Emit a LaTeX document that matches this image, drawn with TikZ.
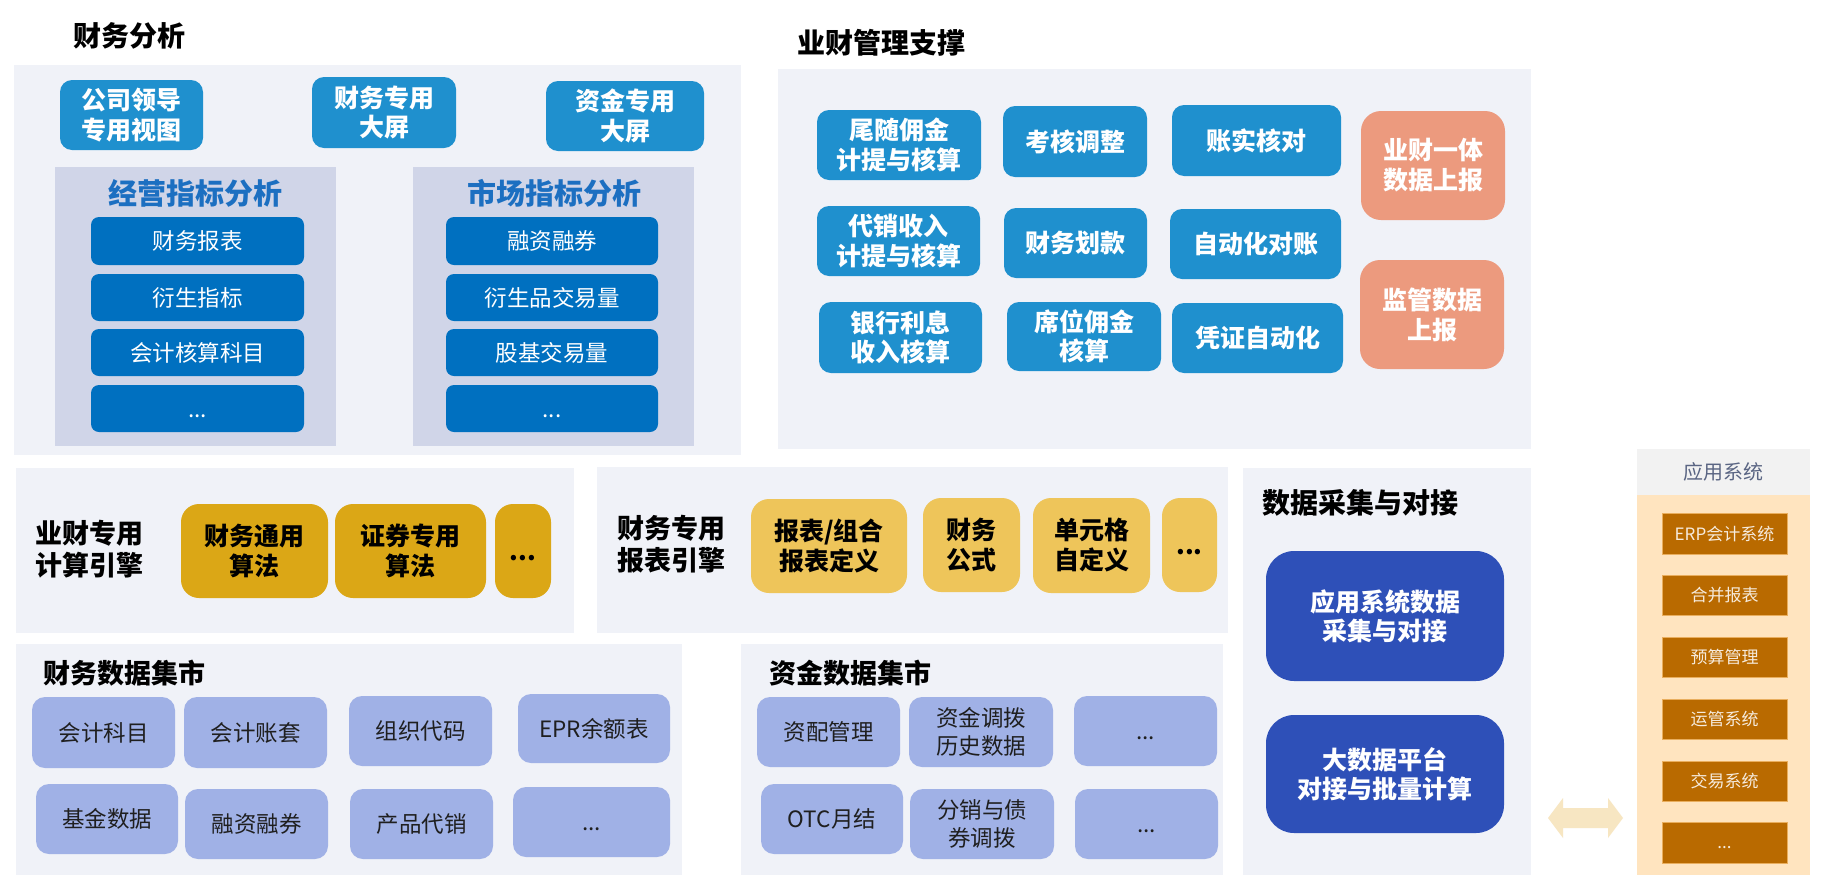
\documentclass[tikz,border=0pt]{standalone}
\usepackage{fontspec}
\setmainfont{Noto Sans CJK SC}
\definecolor{panelbg}{HTML}{F0F2F8}
\definecolor{subbg}{HTML}{D0D5E8}
\definecolor{midblue}{HTML}{1F90CE}
\definecolor{itemblue}{HTML}{0070C0}
\definecolor{titleblue}{HTML}{1C6FC1}
\definecolor{salmon}{HTML}{EC9A7E}
\definecolor{goldc}{HTML}{DBA716}
\definecolor{lightgold}{HTML}{EEC55A}
\definecolor{deepblue}{HTML}{2E50B8}
\definecolor{peric}{HTML}{A0B1E6}
\definecolor{hdrgrey}{HTML}{F2F2F2}
\definecolor{hdrtext}{HTML}{5A6583}
\definecolor{peach}{HTML}{FFE4BF}
\definecolor{brownc}{HTML}{B96A00}
\definecolor{brownedge}{HTML}{E9AE5E}
\definecolor{apptext}{HTML}{F6EBDD}
\definecolor{arrowy}{HTML}{F7E6C2}
\newcommand\mybox[7]{\node[#1,minimum width={(#5-#3)*1pt},minimum height={(#6-#4)*1pt}] (#2) at ({(#3+#5)/2},{(#4+#6)/2}) {#7};}
\newcommand\dd{\vphantom{财}...}
\tikzset{
  base/.style={inner sep=0pt,outer sep=0pt,align=center,text=white},
  panel/.style={base,fill=panelbg},
  subpanel/.style={base,fill=subbg},
  sect/.style={inner sep=0pt,outer sep=0pt,align=center,text=black,font=\bfseries\fontsize{28}{32}\selectfont},
  sectsm/.style={sect,font=\bfseries\fontsize{27}{32}\selectfont},
  subtitle/.style={inner sep=0pt,align=center,text=titleblue,font=\bfseries\fontsize{29}{32}\selectfont},
  enginelabel/.style={inner sep=0pt,align=center,text=black,font=\bfseries\fontsize{27}{32.5}\selectfont},
  topb/.style={base,fill=midblue,rounded corners=12pt,font=\bfseries\fontsize{25}{29.5}\selectfont},
  itemb/.style={base,fill=itemblue,rounded corners=8pt,font=\fontsize{22.5}{27}\selectfont},
  salm/.style={base,fill=salmon,rounded corners=20pt,font=\bfseries\fontsize{25}{30}\selectfont},
  goldb/.style={base,fill=goldc,rounded corners=18pt,text=black,font=\bfseries\fontsize{25}{30}\selectfont},
  lgoldb/.style={base,fill=lightgold,rounded corners=18pt,text=black,font=\bfseries\fontsize{25}{30}\selectfont},
  deepb/.style={base,fill=deepblue,rounded corners=28pt,font=\bfseries\fontsize{25}{29}\selectfont},
  perib/.style={base,fill=peric,rounded corners=13pt,text=black!88,font=\fontsize{22.5}{28.5}\selectfont},
  apphdr/.style={base,fill=hdrgrey,text=hdrtext,font=\fontsize{20}{24}\selectfont},
  appbody/.style={base,fill=peach},
  appb/.style={base,fill=brownc,draw=brownedge,line width=0.8pt,text=apptext,font=\fontsize{17}{20}\selectfont},
}
\begin{document}
\begin{tikzpicture}[x=1pt,y=-1pt]
\useasboundingbox[fill=white] (0,0) rectangle (1826,892);
% ---------- 财务分析 ----------
\node[sect] (tA) at (129,36) {财务分析};
\mybox{panel}{pA}{14}{65}{741}{455}{}
\mybox{topb}{a1}{60}{80}{203}{150}{公司领导\\专用视图}
\mybox{topb}{a2}{312}{77}{456}{148}{财务专用\\大屏}
\mybox{topb}{a3}{546}{81}{704}{151}{资金专用\\大屏}
\mybox{subpanel}{s1}{55}{167}{336}{446}{}
\mybox{subpanel}{s2}{413}{167}{694}{446}{}
\node[subtitle] (s1t) at (195,193) {经营指标分析};
\node[subtitle] (s2t) at (554,193) {市场指标分析};
\mybox{itemb}{l1}{91}{217}{304}{265}{财务报表}
\mybox{itemb}{l2}{91}{274}{304}{321}{衍生指标}
\mybox{itemb}{l3}{91}{329}{304}{376}{会计核算科目}
\mybox{itemb}{l4}{91}{385}{304}{432}{\dd}
\mybox{itemb}{r1}{446}{217}{658}{265}{融资融券}
\mybox{itemb}{r2}{446}{274}{658}{321}{衍生品交易量}
\mybox{itemb}{r3}{446}{329}{658}{376}{股基交易量}
\mybox{itemb}{r4}{446}{385}{658}{432}{\dd}
% ---------- 业财管理支撑 ----------
\node[sect] (tB) at (881,43) {业财管理支撑};
\mybox{panel}{pB}{778}{69}{1531}{449}{}
\mybox{topb}{b1}{817}{110}{981}{180}{尾随佣金\\计提与核算}
\mybox{topb}{b2}{1003}{106}{1147}{177}{考核调整}
\mybox{topb}{b3}{1172}{105}{1341}{176}{账实核对}
\mybox{topb}{b4}{817}{206}{980}{276}{代销收入\\计提与核算}
\mybox{topb}{b5}{1004}{208}{1147}{278}{财务划款}
\mybox{topb}{b6}{1170}{209}{1341}{279}{自动化对账}
\mybox{topb}{b7}{819}{302}{982}{373}{银行利息\\收入核算}
\mybox{topb}{b8}{1007}{302}{1161}{371}{席位佣金\\核算}
\mybox{topb}{b9}{1172}{303}{1343}{373}{凭证自动化}
\mybox{salm}{o1}{1361}{111}{1505}{220}{业财一体\\数据上报}
\mybox{salm}{o2}{1360}{260}{1504}{369}{监管数据\\上报}
% ---------- 业财专用计算引擎 ----------
\mybox{panel}{pC}{16}{468}{574}{633}{}
\node[enginelabel] (cl) at (89,549) {业财专用\\计算引擎};
\mybox{goldb}{c1}{181}{504}{328}{598}{财务通用\\算法}
\mybox{goldb}{c2}{335}{504}{486}{598}{证券专用\\算法}
\mybox{goldb}{c3}{495}{504}{551}{598}{\dd}
% ---------- 财务专用报表引擎 ----------
\mybox{panel}{pD}{597}{467}{1228}{633}{}
\node[enginelabel] (dl) at (671,544) {财务专用\\报表引擎};
\mybox{lgoldb}{d1}{751}{499}{907}{593}{报表/组合\\报表定义}
\mybox{lgoldb}{d2}{923}{498}{1020}{592}{财务\\公式}
\mybox{lgoldb}{d3}{1033}{498}{1150}{593}{单元格\\自定义}
\mybox{lgoldb}{d4}{1162}{498}{1217}{592}{\dd}
% ---------- 数据采集与对接 ----------
\mybox{panel}{pE}{1243}{468}{1531}{875}{}
\node[sect] (tE) at (1360,503) {数据采集与对接};
\mybox{deepb}{e1}{1266}{551}{1504}{681}{应用系统数据\\采集与对接}
\mybox{deepb}{e2}{1266}{715}{1504}{833}{大数据平台\\对接与批量计算}
% ---------- 财务数据集市 ----------
\mybox{panel}{pF}{16}{644}{682}{875}{}
\node[sectsm] (tF) at (124,673) {财务数据集市};
\mybox{perib}{f1}{32}{697}{175}{768}{会计科目}
\mybox{perib}{f2}{184}{697}{327}{768}{会计账套}
\mybox{perib}{f3}{349}{696}{492}{766}{组织代码}
\mybox{perib}{f4}{518}{694}{670}{763}{EPR余额表}
\mybox{perib}{f5}{36}{784}{178}{854}{基金数据}
\mybox{perib}{f6}{185}{789}{328}{859}{融资融券}
\mybox{perib}{f7}{350}{789}{493}{859}{产品代销}
\mybox{perib}{f8}{513}{787}{670}{857}{\dd}
% ---------- 资金数据集市 ----------
\mybox{panel}{pG}{741}{644}{1223}{875}{}
\node[sectsm] (tG) at (850,673) {资金数据集市};
\mybox{perib}{g1}{757}{697}{900}{767}{资配管理}
\mybox{perib}{g2}{909}{697}{1053}{767}{资金调拨\\历史数据}
\mybox{perib}{g3}{1074}{696}{1217}{766}{\dd}
\mybox{perib}{g4}{761}{784}{903}{854}{OTC月结}
\mybox{perib}{g5}{910}{789}{1054}{859}{分销与债\\券调拨}
\mybox{perib}{g6}{1075}{789}{1218}{859}{\dd}
% ---------- 应用系统 ----------
\mybox{apphdr}{h0}{1637}{449}{1810}{495}{应用系统}
\mybox{appbody}{hb}{1637}{495}{1810}{875}{}
\mybox{appb}{h1}{1662}{513}{1787}{554}{ERP会计系统}
\mybox{appb}{h2}{1662}{575}{1787}{615}{合并报表}
\mybox{appb}{h3}{1662}{637}{1787}{677}{预算管理}
\mybox{appb}{h4}{1662}{699}{1787}{739}{运管系统}
\mybox{appb}{h5}{1662}{761}{1787}{801}{交易系统}
\mybox{appb}{h6}{1662}{822}{1787}{863}{\dd}
% ---------- double arrow ----------
\fill[arrowy] (1548,818) -- (1563,798) -- (1563,808) -- (1608,808) -- (1608,798) -- (1623,818)
  -- (1608,838) -- (1608,828) -- (1563,828) -- (1563,838) -- cycle;
\end{tikzpicture}
\end{document}
